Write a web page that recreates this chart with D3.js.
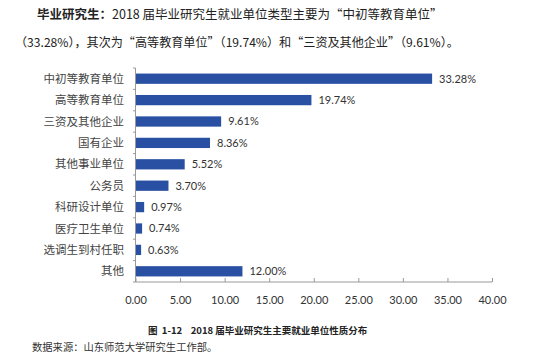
<!DOCTYPE html>
<html>
<head>
<meta charset="utf-8">
<script src="https://d3js.org/d3.v7.min.js"></script>
<style>
  body { margin: 0; background: #fff; }
  svg { display: block; }
  text { white-space: pre; }
</style>
</head>
<body>
<svg id="chart" width="538" height="364"></svg>
<script>
const categories = ["中初等教育单位", "高等教育单位", "三资及其他企业", "国有企业", "其他事业单位",
  "公务员", "科研设计单位", "医疗卫生单位", "选调生到村任职", "其他"]
const values = [33.28, 19.74, 9.61, 8.36, 5.52, 3.70, 0.97, 0.74, 0.63, 12.00]
const xTicks = [0, 5, 10, 15, 20, 25, 30, 35, 40]

const svg = d3.select("#chart")
const cjk = "'Noto Sans CJK SC', 'Noto Sans', sans-serif"
const latin = "Lato, 'Noto Sans', sans-serif"

// header text
const t1 = svg.append("text").attr("x", 37).attr("y", 19)
  .attr("font-family", cjk).attr("font-size", 12.5).attr("fill", "#222")
t1.append("tspan").attr("font-weight", "bold").text("毕业研究生：")
t1.append("tspan").text("2018 届毕业研究生就业单位类型主要为“中初等教育单位”")
svg.append("text").attr("x", 15).attr("y", 47)
  .attr("font-family", cjk).attr("font-size", 12.1).attr("fill", "#222")
  .text("（33.28%），其次为“高等教育单位”（19.74%）和“三资及其他企业”（9.61%）。")

const x = d3.scaleLinear().domain([0, 40]).range([135.5, 492])
const y = d3.scaleBand().domain(categories).range([68, 282]).paddingInner(0.52).paddingOuter(0.26)

const g = svg.append("g")

// bars
g.selectAll("rect.bar").data(values).enter().append("rect")
  .attr("class", "bar")
  .attr("x", x(0))
  .attr("y", (d, i) => y(categories[i]))
  .attr("width", d => x(d) - x(0))
  .attr("height", y.bandwidth())
  .attr("fill", "#2950a3")

// value labels
g.selectAll("text.val").data(values).enter().append("text")
  .attr("class", "val")
  .attr("x", d => x(d) + 7)
  .attr("y", (d, i) => y(categories[i]) + y.bandwidth() / 2)
  .attr("dy", "0.36em")
  .attr("font-family", latin).attr("font-size", 11).attr("fill", "#333")
  .text(d => d.toFixed(2) + "%")

// category labels
g.selectAll("text.cat").data(categories).enter().append("text")
  .attr("class", "cat")
  .attr("x", 124)
  .attr("y", d => y(d) + y.bandwidth() / 2)
  .attr("dy", "0.36em")
  .attr("text-anchor", "end")
  .attr("font-family", cjk).attr("font-size", 11.5).attr("fill", "#444")
  .text(d => d)

// left axis line with small ticks at band edges
g.append("line").attr("x1", x(0)).attr("x2", x(0)).attr("y1", 68).attr("y2", 282)
  .attr("stroke", "#999").attr("stroke-width", 1)
d3.range(11).forEach(i => {
  const yy = 68 + i * (214 / 10)
  g.append("line").attr("x1", x(0) - 2.5).attr("x2", x(0)).attr("y1", yy).attr("y2", yy)
    .attr("stroke", "#999")
})

// bottom axis
const xAxis = d3.axisBottom(x).tickValues(xTicks).tickSize(-4).tickPadding(14)
  .tickFormat(d => d.toFixed(2))
const ax = svg.append("g").attr("transform", "translate(0,282)").call(xAxis)
ax.select(".domain").attr("stroke", "#999").attr("d", `M${x(0)},0H${x(40)}`)
ax.selectAll(".tick line").attr("stroke", "#999")
ax.selectAll(".tick text").attr("font-family", latin).attr("font-size", 11).attr("fill", "#333")

// caption and source
svg.append("text").attr("x", 148).attr("y", 334)
  .attr("font-family", cjk).attr("font-size", 9.5).attr("font-weight", "bold").attr("fill", "#222")
  .text("图  1-12    2018 届毕业研究生主要就业单位性质分布")
svg.append("text").attr("x", 32).attr("y", 351)
  .attr("font-family", cjk).attr("font-size", 10.3).attr("fill", "#333")
  .text("数据来源：山东师范大学研究生工作部。")
</script>
</body>
</html>
